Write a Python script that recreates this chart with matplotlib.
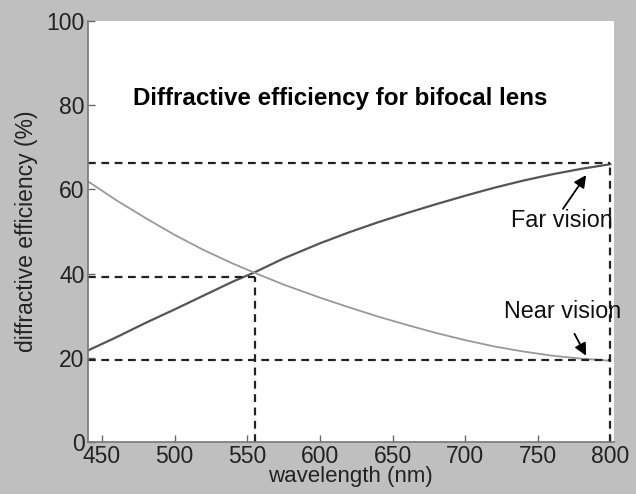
import matplotlib
matplotlib.use("Agg")
import matplotlib.pyplot as plt

plt.rcParams['font.family'] = ['Liberation Sans', 'DejaVu Sans']

# Data
wavelength = [440, 460, 480, 500, 520, 540, 555, 575, 600, 620, 640, 660, 680,
              700, 720, 740, 760, 780, 800]
far_vision = [21.7, 24.9, 28.3, 31.5, 34.8, 38.1, 40.3, 43.6, 47.2, 49.8, 52.2, 54.4, 56.5,
              58.5, 60.4, 62.1, 63.6, 64.9, 66.0]
near_vision = [62.0, 57.4, 53.2, 49.2, 45.6, 42.4, 40.2, 37.4, 34.3, 32.0, 29.8, 27.8, 25.9,
               24.2, 22.7, 21.5, 20.5, 19.8, 19.3]

x_ticks = [450, 500, 550, 600, 650, 700, 750, 800]
y_ticks = [0, 20, 40, 60, 80, 100]

cross_x, cross_y = 555.5, 39.3
far_end_y = 66.2
near_end_y = 19.5
end_x = 800

fig = plt.figure(figsize=(6.36, 4.94), dpi=100, facecolor='#bfbfbf')
ax = fig.add_axes([0.1376, 0.1053, 0.8278, 0.852])
ax.set_facecolor('white')

ax.plot(wavelength, far_vision, color='#555555', lw=1.6)
ax.plot(wavelength, near_vision, color='#999999', lw=1.3)

dash = dict(color='#222222', lw=1.6, ls=(0, (3.5, 2.5)))
ax.plot([440, end_x], [far_end_y, far_end_y], **dash)
ax.plot([440, end_x], [near_end_y, near_end_y], **dash)
ax.plot([440, cross_x], [cross_y, cross_y], **dash)
ax.plot([cross_x, cross_x], [0, cross_y], **dash)
ax.plot([end_x, end_x], [0, far_end_y], **dash)

ax.text(614, 81.7, 'Diffractive efficiency for bifocal lens', ha='center', va='center',
        fontsize=17.4, fontweight='bold', color='black')

arrow = dict(arrowstyle='-|>', color='black', lw=1.3, mutation_scale=18,
             shrinkA=0, shrinkB=0)
ax.text(766.5, 52.6, 'Far vision', ha='center', va='center', fontsize=16.8, color='#111111')
ax.annotate('', xy=(783.3, 63.4), xytext=(767.4, 55.4), arrowprops=arrow)
ax.text(767, 31, 'Near vision', ha='center', va='center', fontsize=16.8, color='#111111')
ax.annotate('', xy=(783.3, 20.5), xytext=(775.3, 25.7), arrowprops=arrow)

ax.set_xlim(440, 802.5)
ax.set_ylim(0, 100)
ax.set_xticks(x_ticks)
ax.set_yticks(y_ticks)
ax.tick_params(direction='in', length=5, width=1, color='#666666', labelsize=16.5,
               labelcolor='#222222', pad=2)
for s in ['top', 'right']:
    ax.spines[s].set_visible(False)
for s in ['left', 'bottom']:
    ax.spines[s].set_color('#777777')
    ax.spines[s].set_linewidth(1.2)

ax.set_xlabel('wavelength (nm)', fontsize=16, color='#222222', labelpad=-1)
ax.set_ylabel('diffractive efficiency (%)', fontsize=16.5, color='#222222', labelpad=6)

fig.savefig('out.png', dpi=100, facecolor=fig.get_facecolor())
